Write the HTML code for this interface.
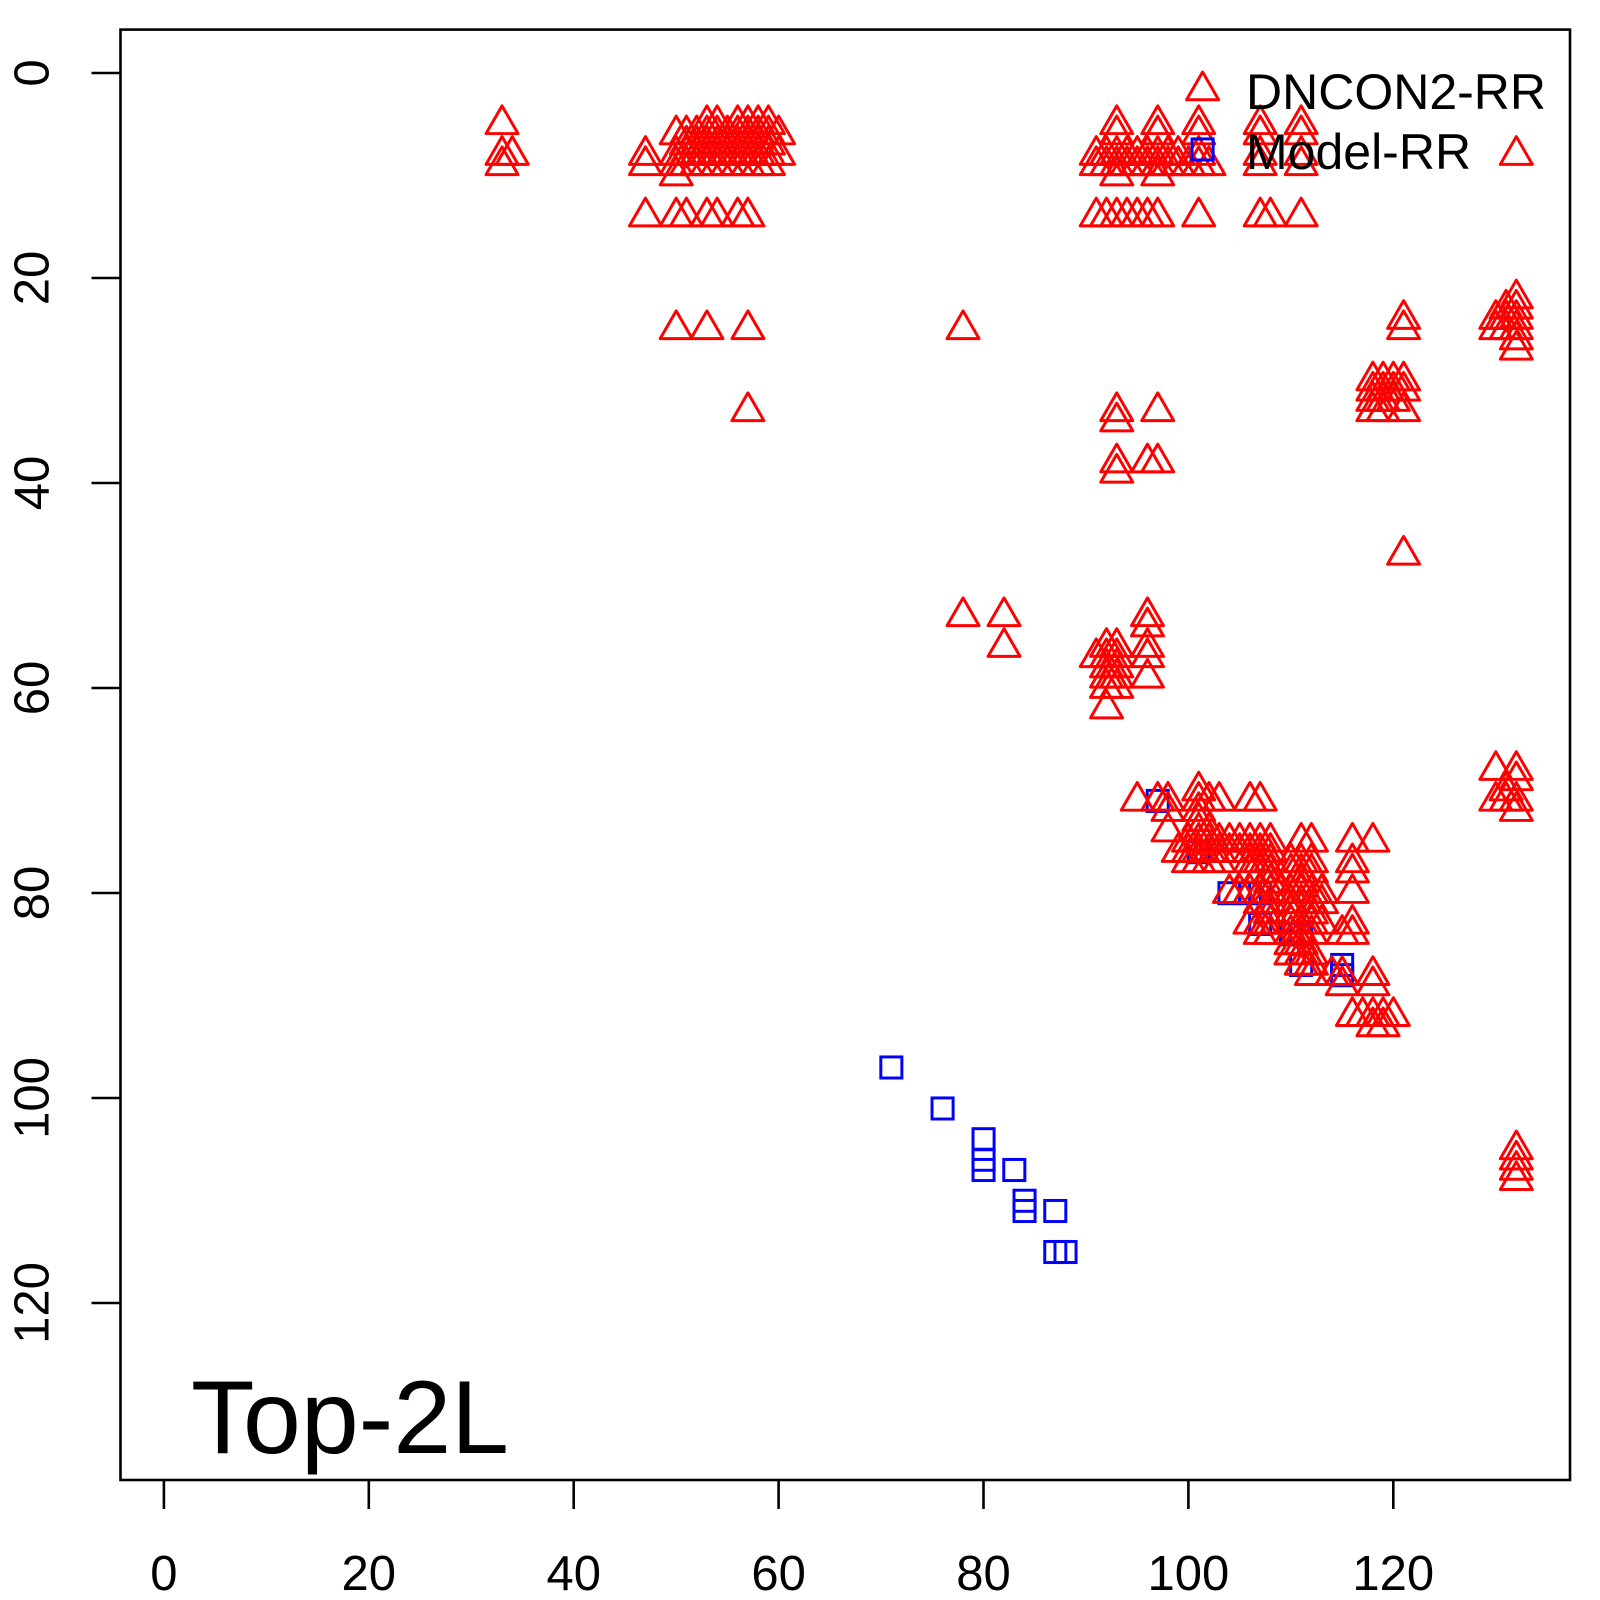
<!DOCTYPE html>
<html>
<head>
<meta charset="utf-8">
<style>
html,body{margin:0;padding:0;background:#fff;}
svg{display:block;}
</style>
</head>
<body>
<svg xmlns="http://www.w3.org/2000/svg" width="1600" height="1600" viewBox="0 0 1600 1600" font-family="'Liberation Sans', Arial, sans-serif">
<rect width="1600" height="1600" fill="#fff"/>

<!-- plot data region -->
<svg x="120.5" y="29.6" width="1449.5" height="1450.4" viewBox="-4.24 -4.24 141.48 141.48" preserveAspectRatio="none" overflow="visible">
<defs>
<path id="t" d="M0,-1.803L1.562,0.902L-1.562,0.902Z" fill="none" stroke="#ff0000" stroke-width="0.29" stroke-linejoin="round"/>
<rect id="s" x="-1.028" y="-1.028" width="2.056" height="2.056" fill="none" stroke="#0000ff" stroke-width="0.29"/>
</defs>

<!-- Model-RR squares -->
<use href="#s" x="71" y="97"/><use href="#s" x="76" y="101"/><use href="#s" x="80" y="104"/><use href="#s" x="80" y="106"/><use href="#s" x="80" y="107"/><use href="#s" x="83" y="107"/><use href="#s" x="84" y="110"/><use href="#s" x="84" y="111"/><use href="#s" x="87" y="111"/><use href="#s" x="87" y="115"/><use href="#s" x="88" y="115"/>
<use href="#s" x="97" y="71"/><use href="#s" x="101" y="76"/><use href="#s" x="104" y="80"/><use href="#s" x="106" y="80"/><use href="#s" x="107" y="80"/><use href="#s" x="107" y="83"/><use href="#s" x="110" y="84"/><use href="#s" x="111" y="84"/><use href="#s" x="111" y="87"/><use href="#s" x="115" y="87"/><use href="#s" x="115" y="88"/>

<!-- DNCON2-RR triangles: top-left -->
<use href="#t" x="33" y="5"/><use href="#t" x="33" y="8"/><use href="#t" x="34" y="8"/><use href="#t" x="33" y="9"/>
<use href="#t" x="47" y="8"/><use href="#t" x="47" y="9"/><use href="#t" x="47" y="14"/>
<use href="#t" x="53" y="5"/><use href="#t" x="54" y="5"/><use href="#t" x="56" y="5"/><use href="#t" x="57" y="5"/><use href="#t" x="58" y="5"/><use href="#t" x="59" y="5"/>
<use href="#t" x="50" y="6"/><use href="#t" x="51" y="6"/><use href="#t" x="52" y="6"/><use href="#t" x="53" y="6"/><use href="#t" x="54" y="6"/><use href="#t" x="55" y="6"/><use href="#t" x="56" y="6"/><use href="#t" x="57" y="6"/><use href="#t" x="58" y="6"/><use href="#t" x="59" y="6"/><use href="#t" x="60" y="6"/>
<use href="#t" x="51" y="7"/><use href="#t" x="52" y="7"/><use href="#t" x="53" y="7"/><use href="#t" x="54" y="7"/><use href="#t" x="55" y="7"/><use href="#t" x="56" y="7"/><use href="#t" x="57" y="7"/><use href="#t" x="58" y="7"/><use href="#t" x="59" y="7"/>
<use href="#t" x="50" y="8"/><use href="#t" x="51" y="8"/><use href="#t" x="52" y="8"/><use href="#t" x="53" y="8"/><use href="#t" x="54" y="8"/><use href="#t" x="55" y="8"/><use href="#t" x="56" y="8"/><use href="#t" x="57" y="8"/><use href="#t" x="58" y="8"/><use href="#t" x="59" y="8"/><use href="#t" x="60" y="8"/>
<use href="#t" x="50" y="9"/><use href="#t" x="51" y="9"/><use href="#t" x="52" y="9"/><use href="#t" x="53" y="9"/><use href="#t" x="54" y="9"/><use href="#t" x="55" y="9"/><use href="#t" x="56" y="9"/><use href="#t" x="57" y="9"/><use href="#t" x="58" y="9"/><use href="#t" x="59" y="9"/>
<use href="#t" x="50" y="10"/>
<use href="#t" x="50" y="14"/><use href="#t" x="51" y="14"/><use href="#t" x="53" y="14"/><use href="#t" x="54" y="14"/><use href="#t" x="56" y="14"/><use href="#t" x="57" y="14"/>
<use href="#t" x="50" y="25"/><use href="#t" x="53" y="25"/><use href="#t" x="57" y="25"/>
<use href="#t" x="57" y="33"/>
<use href="#t" x="78" y="25"/><use href="#t" x="78" y="53"/><use href="#t" x="82" y="53"/><use href="#t" x="82" y="56"/>

<!-- top-middle -->
<use href="#t" x="93" y="5"/><use href="#t" x="97" y="5"/><use href="#t" x="101" y="5"/><use href="#t" x="107" y="5"/><use href="#t" x="111" y="5"/>
<use href="#t" x="93" y="6"/><use href="#t" x="97" y="6"/><use href="#t" x="101" y="6"/><use href="#t" x="107" y="6"/><use href="#t" x="111" y="6"/>
<use href="#t" x="91" y="8"/><use href="#t" x="92" y="8"/><use href="#t" x="93" y="8"/><use href="#t" x="94" y="8"/><use href="#t" x="95" y="8"/><use href="#t" x="96" y="8"/><use href="#t" x="97" y="8"/><use href="#t" x="98" y="8"/><use href="#t" x="99" y="8"/><use href="#t" x="101" y="8"/><use href="#t" x="107" y="8"/><use href="#t" x="111" y="8"/>
<use href="#t" x="91" y="9"/><use href="#t" x="92" y="9"/><use href="#t" x="93" y="9"/><use href="#t" x="94" y="9"/><use href="#t" x="95" y="9"/><use href="#t" x="96" y="9"/><use href="#t" x="97" y="9"/><use href="#t" x="98" y="9"/><use href="#t" x="99" y="9"/><use href="#t" x="100" y="9"/><use href="#t" x="101" y="9"/><use href="#t" x="102" y="9"/><use href="#t" x="107" y="9"/><use href="#t" x="111" y="9"/>
<use href="#t" x="93" y="10"/><use href="#t" x="97" y="10"/>
<use href="#t" x="91" y="14"/><use href="#t" x="92" y="14"/><use href="#t" x="93" y="14"/><use href="#t" x="94" y="14"/><use href="#t" x="95" y="14"/><use href="#t" x="96" y="14"/><use href="#t" x="97" y="14"/><use href="#t" x="101" y="14"/><use href="#t" x="107" y="14"/><use href="#t" x="108" y="14"/><use href="#t" x="111" y="14"/>
<use href="#t" x="132" y="8"/>

<!-- middle cluster -->
<use href="#t" x="93" y="33"/><use href="#t" x="93" y="34"/><use href="#t" x="97" y="33"/>
<use href="#t" x="93" y="38"/><use href="#t" x="93" y="39"/><use href="#t" x="96" y="38"/><use href="#t" x="97" y="38"/>
<use href="#t" x="96" y="53"/><use href="#t" x="96" y="54"/><use href="#t" x="96" y="56"/><use href="#t" x="96" y="57"/><use href="#t" x="96" y="59"/>
<use href="#t" x="92" y="56"/><use href="#t" x="93" y="56"/><use href="#t" x="91" y="57"/><use href="#t" x="92" y="57"/><use href="#t" x="93" y="57"/><use href="#t" x="92" y="58"/><use href="#t" x="93" y="58"/><use href="#t" x="92" y="59"/><use href="#t" x="93" y="59"/><use href="#t" x="92" y="60"/><use href="#t" x="93" y="60"/><use href="#t" x="92" y="62"/>
<use href="#t" x="121" y="47"/>

<!-- right-upper -->
<use href="#t" x="121" y="24"/><use href="#t" x="121" y="25"/>
<use href="#t" x="132" y="22"/><use href="#t" x="131" y="23"/><use href="#t" x="132" y="23"/><use href="#t" x="130" y="24"/><use href="#t" x="131" y="24"/><use href="#t" x="132" y="24"/><use href="#t" x="130" y="25"/><use href="#t" x="131" y="25"/><use href="#t" x="132" y="25"/><use href="#t" x="132" y="26"/><use href="#t" x="132" y="27"/>
<use href="#t" x="118" y="30"/><use href="#t" x="119" y="30"/><use href="#t" x="120" y="30"/><use href="#t" x="121" y="30"/><use href="#t" x="118" y="31"/><use href="#t" x="119" y="31"/><use href="#t" x="120" y="31"/><use href="#t" x="121" y="31"/><use href="#t" x="118" y="32"/><use href="#t" x="119" y="32"/><use href="#t" x="120" y="32"/><use href="#t" x="118" y="33"/><use href="#t" x="119" y="33"/><use href="#t" x="121" y="33"/>

<!-- right lower -->
<use href="#t" x="130" y="68"/><use href="#t" x="132" y="68"/><use href="#t" x="132" y="69"/><use href="#t" x="131" y="70"/><use href="#t" x="130" y="71"/><use href="#t" x="131" y="71"/><use href="#t" x="132" y="71"/><use href="#t" x="132" y="72"/>
<use href="#t" x="132" y="105"/><use href="#t" x="132" y="106"/><use href="#t" x="132" y="107"/><use href="#t" x="132" y="108"/>

<!-- diagonal dense cluster -->
<use href="#t" x="101" y="70"/>
<use href="#t" x="95" y="71"/><use href="#t" x="97" y="71"/><use href="#t" x="98" y="71"/><use href="#t" x="101" y="71"/><use href="#t" x="102" y="71"/><use href="#t" x="103" y="71"/><use href="#t" x="106" y="71"/><use href="#t" x="107" y="71"/>
<use href="#t" x="98" y="72"/><use href="#t" x="101" y="72"/>
<use href="#t" x="101" y="73"/>
<use href="#t" x="98" y="74"/><use href="#t" x="101" y="74"/><use href="#t" x="102" y="74"/>
<use href="#t" x="100" y="75"/><use href="#t" x="101" y="75"/><use href="#t" x="102" y="75"/><use href="#t" x="103" y="75"/><use href="#t" x="104" y="75"/><use href="#t" x="105" y="75"/><use href="#t" x="106" y="75"/><use href="#t" x="107" y="75"/><use href="#t" x="108" y="75"/><use href="#t" x="111" y="75"/><use href="#t" x="112" y="75"/><use href="#t" x="116" y="75"/><use href="#t" x="118" y="75"/>
<use href="#t" x="99" y="76"/><use href="#t" x="100" y="76"/><use href="#t" x="101" y="76"/><use href="#t" x="102" y="76"/><use href="#t" x="103" y="76"/><use href="#t" x="104" y="76"/><use href="#t" x="105" y="76"/><use href="#t" x="106" y="76"/><use href="#t" x="107" y="76"/><use href="#t" x="108" y="76"/>
<use href="#t" x="100" y="77"/><use href="#t" x="101" y="77"/><use href="#t" x="102" y="77"/><use href="#t" x="103" y="77"/><use href="#t" x="106" y="77"/><use href="#t" x="107" y="77"/><use href="#t" x="108" y="77"/><use href="#t" x="110" y="77"/><use href="#t" x="111" y="77"/><use href="#t" x="112" y="77"/><use href="#t" x="116" y="77"/>
<use href="#t" x="106" y="78"/><use href="#t" x="107" y="78"/><use href="#t" x="108" y="78"/><use href="#t" x="110" y="78"/><use href="#t" x="111" y="78"/><use href="#t" x="112" y="78"/><use href="#t" x="116" y="78"/>
<use href="#t" x="108" y="79"/><use href="#t" x="111" y="79"/>
<use href="#t" x="104" y="80"/><use href="#t" x="105" y="80"/><use href="#t" x="106" y="80"/><use href="#t" x="107" y="80"/><use href="#t" x="108" y="80"/><use href="#t" x="109" y="80"/><use href="#t" x="110" y="80"/><use href="#t" x="111" y="80"/><use href="#t" x="112" y="80"/><use href="#t" x="113" y="80"/><use href="#t" x="116" y="80"/>
<use href="#t" x="107" y="81"/><use href="#t" x="108" y="81"/><use href="#t" x="110" y="81"/><use href="#t" x="111" y="81"/><use href="#t" x="112" y="81"/><use href="#t" x="113" y="81"/>
<use href="#t" x="108" y="82"/><use href="#t" x="110" y="82"/><use href="#t" x="112" y="82"/>
<use href="#t" x="106" y="83"/><use href="#t" x="107" y="83"/><use href="#t" x="108" y="83"/><use href="#t" x="110" y="83"/><use href="#t" x="111" y="83"/><use href="#t" x="112" y="83"/><use href="#t" x="113" y="83"/><use href="#t" x="116" y="83"/>
<use href="#t" x="107" y="84"/><use href="#t" x="108" y="84"/><use href="#t" x="110" y="84"/><use href="#t" x="111" y="84"/><use href="#t" x="112" y="84"/><use href="#t" x="115" y="84"/><use href="#t" x="116" y="84"/>
<use href="#t" x="110" y="85"/><use href="#t" x="111" y="85"/>
<use href="#t" x="110" y="86"/><use href="#t" x="111" y="86"/><use href="#t" x="112" y="86"/>
<use href="#t" x="111" y="87"/><use href="#t" x="112" y="87"/>
<use href="#t" x="112" y="88"/><use href="#t" x="114" y="88"/><use href="#t" x="115" y="88"/><use href="#t" x="118" y="88"/>
<use href="#t" x="115" y="89"/><use href="#t" x="118" y="89"/>
<use href="#t" x="116" y="92"/><use href="#t" x="117" y="92"/><use href="#t" x="118" y="92"/><use href="#t" x="119" y="92"/><use href="#t" x="120" y="92"/>
<use href="#t" x="118" y="93"/><use href="#t" x="119" y="93"/>

<!-- legend symbols -->
<use href="#t" x="101.38" y="1.7"/>
<use href="#s" x="101.38" y="7.45"/>
</svg>

<!-- box -->
<rect x="120.5" y="29.6" width="1449.5" height="1450.4" fill="none" stroke="#000" stroke-width="2.6"/>

<!-- x ticks -->
<g stroke="#000" stroke-width="2.6">
<line x1="163.9" y1="1480" x2="163.9" y2="1509"/>
<line x1="368.8" y1="1480" x2="368.8" y2="1509"/>
<line x1="573.7" y1="1480" x2="573.7" y2="1509"/>
<line x1="778.6" y1="1480" x2="778.6" y2="1509"/>
<line x1="983.5" y1="1480" x2="983.5" y2="1509"/>
<line x1="1188.4" y1="1480" x2="1188.4" y2="1509"/>
<line x1="1393.3" y1="1480" x2="1393.3" y2="1509"/>
<!-- y ticks -->
<line x1="120.5" y1="73" x2="91.5" y2="73"/>
<line x1="120.5" y1="278" x2="91.5" y2="278"/>
<line x1="120.5" y1="483" x2="91.5" y2="483"/>
<line x1="120.5" y1="688" x2="91.5" y2="688"/>
<line x1="120.5" y1="893" x2="91.5" y2="893"/>
<line x1="120.5" y1="1098" x2="91.5" y2="1098"/>
<line x1="120.5" y1="1303" x2="91.5" y2="1303"/>
</g>

<!-- x tick labels -->
<g font-size="49" fill="#000" text-anchor="middle">
<text x="163.9" y="1590">0</text>
<text x="368.8" y="1590">20</text>
<text x="573.7" y="1590">40</text>
<text x="778.6" y="1590">60</text>
<text x="983.5" y="1590">80</text>
<text x="1188.4" y="1590">100</text>
<text x="1393.3" y="1590">120</text>
</g>

<!-- y tick labels (rotated) -->
<g font-size="49" fill="#000" text-anchor="middle">
<text transform="translate(48.5,73) rotate(-90)">0</text>
<text transform="translate(48.5,278) rotate(-90)">20</text>
<text transform="translate(48.5,483) rotate(-90)">40</text>
<text transform="translate(48.5,688) rotate(-90)">60</text>
<text transform="translate(48.5,893) rotate(-90)">80</text>
<text transform="translate(48.5,1098) rotate(-90)">100</text>
<text transform="translate(48.5,1303) rotate(-90)">120</text>
</g>

<!-- legend text -->
<text x="1246" y="109" font-size="50" fill="#000">DNCON2-RR</text>
<text x="1246" y="169" font-size="50" fill="#000">Model-RR</text>

<!-- panel label -->
<text x="191" y="1453" font-size="104" fill="#000">Top-2L</text>
</svg>
</body>
</html>
